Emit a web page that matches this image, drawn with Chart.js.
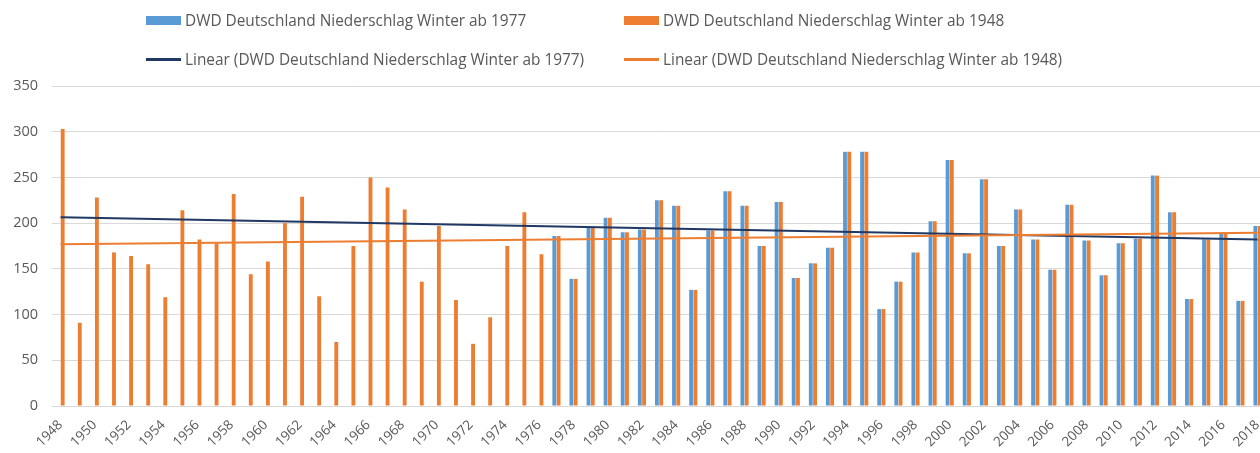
<!DOCTYPE html>
<html>
<head>
<meta charset="utf-8">
<script src="https://cdn.jsdelivr.net/npm/chart.js@4"></script>
<style>
  html, body { margin: 0; padding: 0; background: #fff; overflow: hidden; width: 1260px; height: 453px; }
  #wrap { position: absolute; left: 0; top: 0; width: 1272px; height: 453px; }
  #legend { position: absolute; left: 0; top: 0; width: 1260px; height: 80px; font-family: "Open Sans", sans-serif; font-size: 15.4px; color: #595959; }
  .item { position: absolute; display: flex; align-items: center; white-space: nowrap; }
  .sw { width: 35px; margin-right: 4px; }
</style>
</head>
<body>
<div id="wrap"><canvas id="chart" width="1272" height="453"></canvas></div>
<div id="legend"></div>
<script>
// Winter precipitation Germany (DWD), mm
const years = [];
for (let y = 1948; y <= 2018; y++) years.push(String(y));

const niederschlag1948 = [
  303, 91, 228, 168, 164, 155, 119, 214, 182, 178,
  232, 144, 158, 200, 229, 120, 70, 175, 250, 239,
  215, 136, 197, 116, 68, 97, 175, 212, 166, 186,
  139, 195, 206, 190, 193, 225, 219, 127, 192, 235,
  219, 175, 223, 140, 156, 173, 278, 278, 106, 136,
  168, 202, 269, 167, 248, 175, 215, 182, 149, 220,
  181, 143, 178, 183, 252, 212, 117, 182, 189, 115,
  197
];

// same series, only from 1977 on
const niederschlag1977 = [
  186, 139, 195, 206, 190, 193, 225, 219, 127, 192,
  235, 219, 175, 223, 140, 156, 173, 278, 278, 106,
  136, 168, 202, 269, 167, 248, 175, 215, 182, 149,
  220, 181, 143, 178, 183, 252, 212, 117, 182, 189,
  115, 197
];

// linear trend lines, value at 1948 and at 2018
const trend1977 = [206.4, 182.2];
const trend1948 = [176.8, 189.6];

const yTicks = [0, 50, 100, 150, 200, 250, 300, 350];

const labels = {
  b77: 'DWD Deutschland Niederschlag Winter ab 1977',
  b48: 'DWD Deutschland Niederschlag Winter ab 1948',
  l77: 'Linear (DWD Deutschland Niederschlag Winter ab 1977)',
  l48: 'Linear (DWD Deutschland Niederschlag Winter ab 1948)'
};

const blue = '#5b9bd5';
const orange = '#ed7d31';
const navy = '#1f3864';

// pad the 1977 series with nulls so it lines up with the years
const start77 = years.indexOf('1977');
const data77 = years.map((y, i) => i < start77 ? null : niederschlag1977[i - start77]);

const trendData = (ends) => years.map((y, i) => i === 0 ? ends[0] : (i === years.length - 1 ? ends[1] : null));

const ctx = document.getElementById('chart').getContext('2d');
const chart = new Chart(ctx, {
  type: 'bar',
  data: {
    labels: years,
    datasets: [
      {
        label: labels.b77,
        data: data77,
        backgroundColor: blue,
        categoryPercentage: 0.5,
        barPercentage: 0.9,
        order: 2
      },
      {
        label: labels.b48,
        data: niederschlag1948,
        backgroundColor: orange,
        categoryPercentage: 0.5,
        barPercentage: 0.9,
        order: 2
      },
      {
        type: 'line',
        label: labels.l77,
        data: trendData(trend1977),
        borderColor: navy,
        borderWidth: 2,
        pointRadius: 0,
        spanGaps: true,
        order: 1
      },
      {
        type: 'line',
        label: labels.l48,
        data: trendData(trend1948),
        borderColor: orange,
        borderWidth: 2,
        pointRadius: 0,
        spanGaps: true,
        order: 0
      }
    ]
  },
  options: {
    responsive: false,
    animation: false,
    layout: { padding: { top: 86, right: 4, left: 0, bottom: 0 } },
    plugins: {
      legend: { display: false },
      tooltip: { enabled: false }
    },
    scales: {
      x: {
        grid: { display: false },
        border: { display: true, color: '#d9d9d9' },
        ticks: {
          autoSkip: false,
          maxRotation: 45,
          minRotation: 45,
          padding: 3,
          color: '#595959',
          font: { family: '"Open Sans", sans-serif', size: 13.5 },
          callback: function (val, i) { return i % 2 === 0 ? this.getLabelForValue(val) : ''; }
        },
        afterFit: (scale) => { scale.height = 47; }
      },
      y: {
        min: 0,
        max: 350,
        afterBuildTicks: (scale) => { scale.ticks = yTicks.map(v => ({ value: v })); },
        grid: { color: '#d9d9d9', drawTicks: false },
        border: { display: false },
        ticks: {
          padding: 14,
          color: '#595959',
          font: { family: '"Open Sans", sans-serif', size: 14.5 }
        },
        afterFit: (scale) => { scale.width = 52; }
      }
    }
  }
});

// legend in two rows / two columns like the original
const legendPos = [
  { ds: 0, left: 146, top: 20, kind: 'bar' },
  { ds: 1, left: 624, top: 20, kind: 'bar' },
  { ds: 2, left: 146, top: 59, kind: 'line' },
  { ds: 3, left: 624, top: 59, kind: 'line' }
];
const legendEl = document.getElementById('legend');
legendPos.forEach(p => {
  const ds = chart.data.datasets[p.ds];
  const item = document.createElement('div');
  item.className = 'item';
  item.style.left = p.left + 'px';
  item.style.top = (p.top - 10) + 'px';
  item.style.height = '20px';
  const sw = document.createElement('span');
  sw.className = 'sw';
  if (p.kind === 'bar') {
    sw.style.height = '9px';
    sw.style.background = ds.backgroundColor;
  } else {
    sw.style.height = '3px';
    sw.style.background = ds.borderColor;
  }
  const txt = document.createElement('span');
  txt.textContent = ds.label;
  item.appendChild(sw);
  item.appendChild(txt);
  legendEl.appendChild(item);
});
</script>
</body>
</html>
